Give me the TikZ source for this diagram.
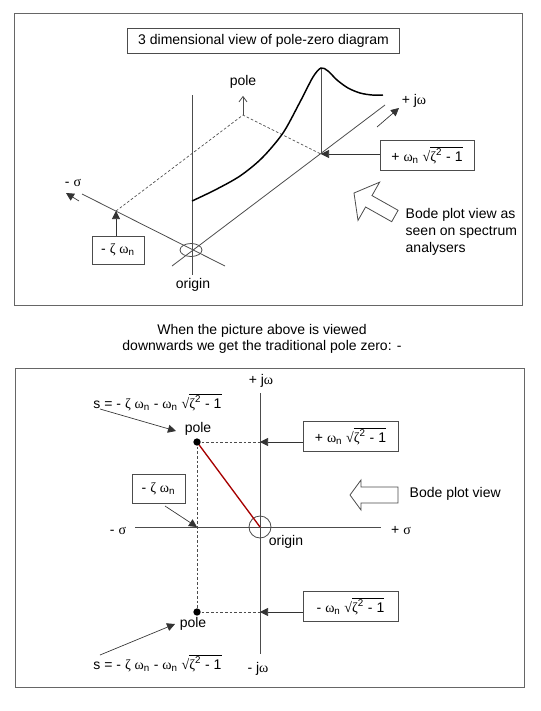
\documentclass[tikz,border=0pt]{standalone}
\usepackage{fontspec}
\setmainfont{Liberation Sans}
\newfontfamily\grk{Liberation Serif}
\usetikzlibrary{arrows.meta}

% greek letters as printed (serif), and the root term
\newcommand{\gsig}{{\grk σ}}
\newcommand{\gom}{{\grk ω}}
\newcommand{\gzeta}{{\grk ζ}}
\newcommand{\wnsub}{\gom\textsubscript{n}}
\newcommand{\sqzeta}{{\grk √}$\overline{\mbox{\gzeta\textsuperscript{2} - 1}}$}

\tikzset{
  frame/.style={draw=black!60, line width=0.7pt},
  axis/.style={draw=black!70, line width=0.6pt},
  guide/.style={draw=black!70, line width=0.5pt, dash pattern=on 2pt off 1.5pt},
  tagbox/.style={draw=black!70, line width=0.6pt, fill=white, inner sep=2pt},
  pointer/.style={draw=black!80, line width=0.5pt, -{Triangle[length=6pt,width=6pt]}},
  bodecurve/.style={draw=black, line width=1.1pt},
  rootline/.style={draw=red!65!black, line width=1pt},
  hollow/.style={draw=black!70, line width=0.6pt, fill=white},
  dot/.style={circle, fill=black, inner sep=0pt, minimum size=5.5pt},
}

\begin{document}
\begin{tikzpicture}[x=0.75pt, y=-0.75pt, font=\fontsize{10.5pt}{12.5pt}\selectfont]
\useasboundingbox (0,0) rectangle (540,711);

% frames
\draw[frame] (14,13) rectangle (522,305);
\draw[frame] (15,368) rectangle (524,687);

%%%% 3 dimensional view
\node[tagbox, minimum width=204pt, minimum height=18.75pt] (title) at (263.5,40.5) {3 dimensional view of pole-zero diagram};

\coordinate (orig3) at (191,250);
\coordinate (sigS) at (225,266);
\coordinate (sigE) at (82,194);
\coordinate (jwS) at (172,266);
\coordinate (jwE) at (385,105);
\coordinate (magTop) at (192,95);
\coordinate (magBot) at (192,275);
\coordinate (zetaA) at (116,211);  % -zeta wn on the sigma axis
\coordinate (poleA) at (243,115);  % pole point
\coordinate (wnA) at (321,154);    % +wn root on the jw axis
\coordinate (peak) at (321,68);

\draw[axis] (sigS) -- (sigE);
\draw[axis] (jwS) -- (jwE);
\draw[axis] (magTop) -- (magBot);
\draw[axis] (orig3) ellipse (11 and 6.5);
\draw[guide] (zetaA) -- (poleA) -- (wnA);
\draw[axis] (wnA) -- (peak);

% magnitude seen along the jw axis
\draw[bodecurve] plot[smooth] coordinates {(192,201) (215,190) (240,176) (262,158) (283,133)
  (300,102) (313,77) (321,68) (328,71) (337,80) (348,88) (360,93) (372,95) (383,95)};

\node (poleTop) at (243,82) {pole};
\draw[axis, -{Straight Barb[length=4pt,width=6pt]}] (poleA) -- ([yshift=-2pt]poleTop.south);

\node (sigLbl) at (73,183) {- \gsig};
\coordinate (sigArrS) at (79,201);
\coordinate (sigArrE) at (66,193);
\draw[pointer] (sigArrS) -- (sigArrE);

\node (jwLbl) at (414,101) {+ j\gom};
\coordinate (jwArrS) at (377,127);
\coordinate (jwArrE) at (399,108);
\draw[pointer] (jwArrS) -- (jwArrE);

\node[tagbox, minimum width=39pt, minimum height=21pt] (zetaBox) at (118,250) {- \gzeta\ \wnsub};
\draw[pointer] (zetaBox.north -| zetaA) -- (zetaA);

\node[tagbox, minimum width=70.5pt, minimum height=22.5pt] (wnBox) at (427,155) {+ \wnsub\ \sqzeta};
\draw[pointer] (wnBox.west |- wnA) -- (wnA);

\node (orig3Lbl) at (193,285) {origin};

% viewing direction
\draw[hollow] (354,193) -- (379.6,182.2) -- (372,195.6) -- (398.1,210.3)
  -- (391.7,221.7) -- (365.6,207) -- (358,220.4) -- cycle;
\node[anchor=west, align=left] (bodeTxt) at (401,232) {Bode plot view as\\seen on spectrum\\analysers};

%%%% plan view
\node[align=center] (caption) at (262,339) {When the picture above is viewed\\downwards we get the traditional pole zero: -};

\coordinate (orig) at (260,527);
\coordinate (jwTop) at (260,393);
\coordinate (jwBot) at (260,654);
\coordinate (sigL) at (135,527);
\coordinate (sigR) at (381,527);
\coordinate (poleU) at (197,442);
\coordinate (poleL) at (197,612);
\coordinate (zetaB) at (197,527);

\draw[axis] (sigL) -- (sigR);
\draw[axis] (jwTop) -- (jwBot);
\draw[axis] (orig) circle (11);
\draw[guide] (poleU) -- (poleU -| orig);
\draw[guide] (poleL) -- (poleL -| orig);
\draw[guide] (poleU) -- (poleL);
\draw[rootline] (poleU) -- (orig);
\node[dot] (dotU) at (poleU) {};
\node[dot] (dotL) at (poleL) {};

\node (jwTopLbl) at (261,381) {+ j\gom};
\node (jwBotLbl) at (258,669) {- j\gom};
\node (sigLLbl) at (118,531) {- \gsig};
\node (sigRLbl) at (401,531) {+ \gsig};
\node (origLbl) at (286,542) {origin};

\node (poleULbl) at (198,429) {pole};
\node (poleLLbl) at (193,624) {pole};
\node (sUpper) at (157.5,402) {s = - \gzeta\ \wnsub\ - \wnsub\ \sqzeta};
\node (sLower) at (157.5,663) {s = - \gzeta\ \wnsub\ - \wnsub\ \sqzeta};
\coordinate (sUtail) at (100,409);
\coordinate (sUtip) at (176,431);
\coordinate (sLtail) at (100,655);
\coordinate (sLtip) at (175,624);
\draw[pointer] (sUtail) -- (sUtip);
\draw[pointer] (sLtail) -- (sLtip);

\node[tagbox, minimum width=39.75pt, minimum height=21.75pt] (zetaBoxB) at (158.5,488.5) {- \gzeta\ \wnsub};
\coordinate (zetaTail) at (165,506);
\draw[pointer] (zetaTail) -- (zetaB);

\node[tagbox, minimum width=71.25pt, minimum height=22.5pt] (wnUp) at (350.5,436) {+ \wnsub\ \sqzeta};
\node[tagbox, minimum width=71.25pt, minimum height=22.5pt] (wnDn) at (350.5,606) {- \wnsub\ \sqzeta};
\draw[pointer] (wnUp.west |- poleU) -- (poleU -| orig);
\draw[pointer] (wnDn.west |- poleL) -- (poleL -| orig);

% viewing direction
\draw[hollow] (350,495) -- (361,480) -- (361,487) -- (398,487) -- (398,503)
  -- (361,503) -- (361,510) -- cycle;
\node[anchor=west] (bodeTxtB) at (405,494) {Bode plot view};
\end{tikzpicture}
\end{document}
